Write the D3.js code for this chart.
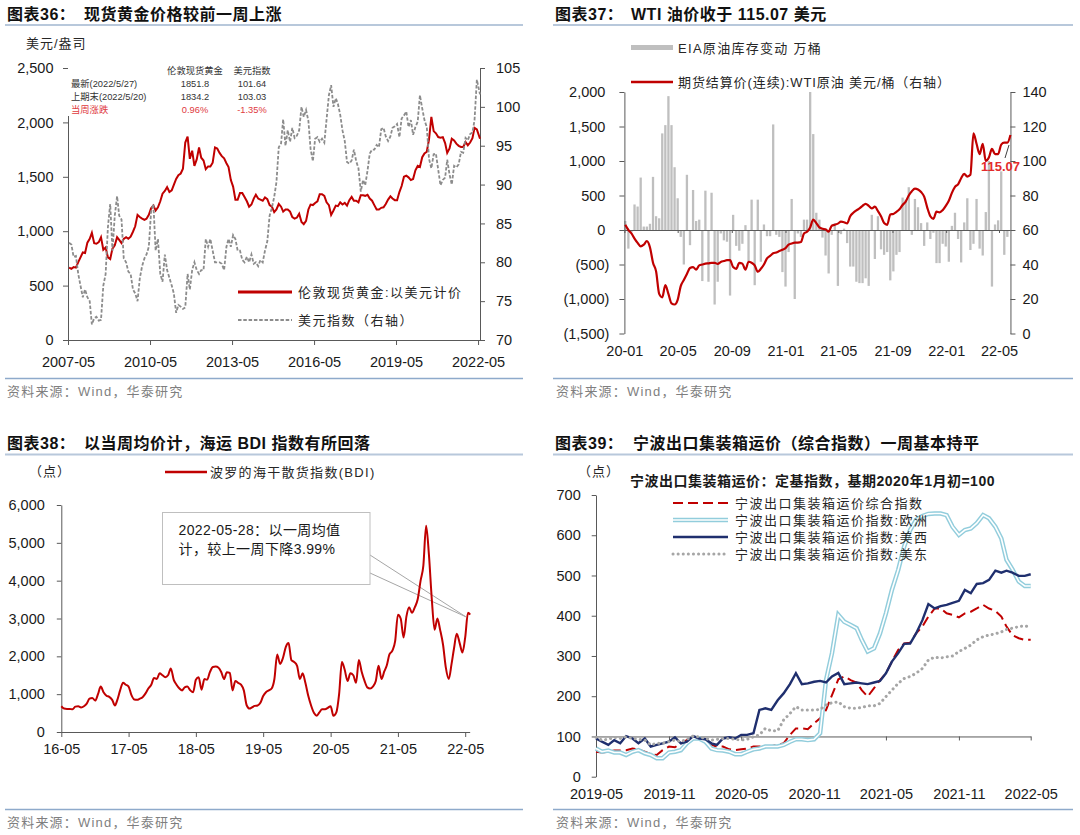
<!DOCTYPE html>
<html lang="zh">
<head>
<meta charset="utf-8">
<title>商品与运价周度图表</title>
<script src="https://d3js.org/d3.v7.min.js"></script>
<style>
  body { margin: 0; background: #fff; }
  svg { display: block; font-family: "Liberation Sans", "Noto Sans CJK SC", sans-serif; }
  .ttl { font-size: 16px; font-weight: bold; fill: #111; letter-spacing: 0.5px; }
  .lg { font-size: 13px; fill: #262626; letter-spacing: 1.3px; }
  .src { font-size: 13px; fill: #7f7f7f; letter-spacing: 1.2px; }
  .unit { font-size: 13px; fill: #262626; letter-spacing: 1px; }
  .tbl { font-size: 9.3px; fill: #333; }
</style>
</head>
<body>
<svg id="c" width="1080" height="835"></svg>
<script>
// ---------- data ----------
// 图表36: monthly, 2007-05 .. 2022-05
var goldVals = [665,655,670,665,715,760,805,800,
  895,930,985,890,885,900,945,830,850,760,745,840,
  870,945,920,890,930,945,930,950,995,1045,1150,1130,
  1115,1105,1115,1150,1210,1235,1190,1220,1275,1345,1370,1405,
  1360,1375,1425,1480,1515,1530,1575,1815,1870,1665,1740,1600,
  1660,1770,1675,1650,1570,1595,1595,1630,1770,1760,1720,1690,
  1670,1625,1590,1470,1410,1290,1290,1350,1350,1315,1275,1225,
  1245,1300,1335,1300,1290,1280,1310,1295,1240,1225,1175,1200,
  1250,1225,1180,1200,1200,1180,1130,1115,1125,1160,1085,1065,
  1095,1200,1245,1240,1260,1275,1340,1340,1325,1265,1240,1150,
  1190,1235,1230,1265,1245,1260,1235,1285,1315,1280,1280,1265,
  1330,1330,1325,1335,1300,1280,1240,1200,1200,1215,1220,1250,
  1290,1320,1300,1285,1285,1360,1415,1500,1510,1495,1470,1480,
  1560,1600,1590,1680,1715,1730,1845,2050,1920,1900,1865,1860,
  1865,1810,1720,1760,1850,1835,1805,1785,1775,1775,1820,1790,
  1815,1855,1950,1935,1850];
var usdVals = [82.5,82.3,80.7,80.8,78.5,77,75.5,76.5,
  75.5,75,72,72.8,73,72.5,72.6,77,78.5,84.5,87.5,81.5,
  86,88.5,86,85.5,80.5,80,78.8,78.5,76.5,76,75,77.9,
  79.5,80.5,81,82,86.5,87.5,81.5,83,78.5,77.5,81,79,
  78,77,76,73.5,74.5,74.3,74,74.2,78.5,76.5,79,80,
  79,78.5,79,79,83,82,83,81.5,80,80,80,79.8,
  79,82,83,82,83.5,83,81.5,81.5,80.3,80,80.7,80,
  81,79.8,80,79.5,80.3,80,81.5,82.7,86,87,88.4,90.3,
  94.8,95.3,98.4,95,97,95.5,97.3,96,96.3,97,100,98.7,
  99.6,98.2,94.6,93,95.9,96.1,95.5,95.9,95.4,98.4,101.5,102.8,
  100,101.1,100.4,99,97,95.6,92.9,92.7,93.1,94.5,93,92.1,
  89.1,90.6,89.9,91.8,94,94.5,94.5,95.1,94.8,97.1,97.3,96.2,
  95.6,96.2,97.3,97.5,97.8,96.1,98.5,98.9,99.4,97.4,98.3,96.4,
  97.4,98.1,101.5,99.8,98.3,97.4,93.3,92.1,93.9,94,91.9,89.9,
  90.6,90.9,93.2,91.3,90,92.4,92.2,92.6,94.2,94.1,96,95.7,
  96.5,96.7,98.3,103.5,101.6];
var goldTable = [["最新(2022/5/27)","1851.8","101.64"],
                 ["上期末(2022/5/20)","1834.2","103.03"],
                 ["当周涨跌","0.96%","-1.35%"]];

// 图表37: weekly from 2020-01-03
var eiaVals = [130,-270,-30,370,340,760,50,50,90,770,200,170,1400,1520,1940,1520,910,460,-100,-500,
  800,-220,580,130,150,-740,570,-750,540,-1080,-750,-50,-150,-170,-950,220,-230,-300,-200,70,
  -450,440,-800,440,-460,80,-90,-90,1530,-70,-100,-610,-820,-320,450,-1000,-50,-100,150,150,
  2000,1390,250,150,-110,-370,-630,-70,100,-810,-60,20,-190,-530,-530,-750,-770,-770,-700,-810,
  220,-420,200,-280,-360,-320,-730,-600,-360,-320,470,440,620,-70,450,330,100,-230,110,-130,
  -40,-480,-480,-200,-240,-460,60,250,-130,-470,110,460,-290,-200,450,-270,-370,260,1000,-820,
  80,140,850,-360,-100];
var wtiVals = [63,60,58,55,52.5,50.5,51.5,53.5,50,41,36,23,21,28,23,17.5,16.8,19.5,27.5,31,
  34.5,38,38.5,37,39.5,40,40.5,40.7,41,41,40.3,41.5,42,42.5,42.5,38.5,37.5,41,40.5,37,
  41.6,41,39.5,35.8,37.5,40,43.5,45,46.5,47,47.8,48.5,49.5,51.5,52.2,52.7,52.7,53,58,59,
  61.5,66,64,61.5,60.7,60.4,59,62.5,63,63.7,64.8,64.5,63.8,68,70,71.4,72.5,74,75.1,74,
  72.5,73.5,71,68,64,63,69,69.3,70.5,72,74.5,76.5,80,82.5,84,83.5,82,79.3,73,68,
  66.5,70.6,70.2,71.5,74,77,81.5,85,86.5,90,92.5,91,92,116,110,104,110,100,102,107,
  104,104,109.5,110.6,110.6,115.07];
var wtiLast = "115.07";

// 图表38: half-monthly from 2016-05-01, last point 2022-05-28
var bdiVals = [680,620,610,610,600,670,680,650,680,750,
  880,900,830,1000,1200,1050,960,930,850,700,
  850,1100,1300,1250,1200,980,860,850,880,920,
  1020,1150,1250,1430,1400,1550,1500,1450,1500,1680,
  1380,1250,1150,1100,1180,1200,1100,1050,1380,1450,
  1120,1400,1380,1580,1720,1730,1700,1580,1400,1580,
  1560,1100,1350,1300,1250,1100,700,620,650,690,
  700,770,950,1050,1100,1150,1400,2050,1800,1950,
  2250,2350,1900,1850,1750,1400,1550,1300,950,700,
  500,430,520,600,600,640,680,430,520,1000,
  1850,1650,1350,1550,1500,1300,1900,1600,1350,1180,
  1150,1200,1350,1750,1400,1600,1750,2050,2150,2400,
  3100,3000,2500,3050,3300,3150,3300,3500,4000,4400,
  5450,4700,3500,2700,3000,2700,2300,1700,1400,1800,
  2200,2600,2350,2100,2500,3150];
var bdiLast = 3100;
var bdiNote = ["2022-05-28：以一周均值", "计，较上一周下降3.99%"];

// 图表39: half-monthly from 2019-05-01
var nbComposite = [62,60,62,65,65,66,70,68,62,56,54,66,75,73,83,91,99,95,91,79,
  75,75,68,66,68,70,75,75,76,76,79,83,104,120,120,118,133,145,166,203,
  242,249,240,234,215,199,220,240,257,286,315,331,333,356,373,398,418,418,406,402,
  396,406,410,418,427,418,412,398,373,352,344,340,340];
var nbEurope = [70,62,65,60,60,54,62,66,58,54,46,46,60,62,66,83,95,95,87,70,
  66,65,62,56,56,62,68,70,75,75,75,79,87,93,93,91,93,108,240,307,
  402,385,377,369,340,311,319,356,406,464,514,572,613,638,648,653,654,654,650,621,
  601,613,617,630,650,642,621,592,539,515,485,474,474];
var nbWest = [95,87,79,91,83,101,95,83,95,75,79,83,87,98,83,87,101,95,93,83,
  79,95,98,95,104,104,108,166,170,166,190,207,230,257,230,232,236,238,234,249,
  258,230,232,234,232,230,234,238,257,286,307,330,331,356,389,429,418,424,427,432,
  437,464,456,479,481,489,512,507,512,507,499,499,503];
var nbEast = [98,91,93,98,95,99,95,93,91,79,83,83,87,91,87,93,101,99,95,91,
  93,95,95,93,91,93,99,104,120,114,114,141,157,174,166,166,166,167,178,184,
  186,174,170,170,172,176,176,182,199,215,232,244,249,257,269,290,297,295,298,300,
  311,319,327,340,348,352,355,360,366,369,373,375,371];
var nbNames = ["宁波出口集装箱运价综合指数", "宁波出口集装箱运价指数:欧洲",
               "宁波出口集装箱运价指数:美西", "宁波出口集装箱运价指数:美东"];

// ---------- helpers ----------
var svg = d3.select("#c");
var parse = d3.timeParse("%Y-%m-%d");
var dk = "#595959";

function monthSeq(start, n) {
  var d0 = parse(start);
  return d3.range(n).map(function(i){ return d3.timeMonth.offset(d0, i); });
}
function weekSeq(start, n) {
  var d0 = parse(start);
  return d3.range(n).map(function(i){ return d3.timeWeek.offset(d0, i); });
}
function halfMonthSeq(start, n) {
  var d0 = parse(start);
  return d3.range(n).map(function(i){
    var m = d3.timeMonth.offset(d0, Math.floor(i / 2));
    return i % 2 ? d3.timeDay.offset(m, 15) : m;
  });
}
function styleAxis(g) {
  g.attr("font-family", null).attr("font-size", null);
  g.selectAll(".domain").attr("stroke", dk);
  g.selectAll(".tick line").attr("stroke", dk);
  g.selectAll("text").attr("fill", "#1a1a1a").style("font-size", "14.5px");
}
function title(x, y, num, x2, txt) {
  svg.append("text").attr("class", "ttl").attr("x", x).attr("y", y).text(num);
  svg.append("text").attr("class", "ttl").attr("x", x2).attr("y", y).text(txt);
}
function hline(x1, x2, y, color, w) {
  svg.append("line").attr("x1", x1).attr("x2", x2).attr("y1", y).attr("y2", y)
    .attr("stroke", color).attr("stroke-width", w);
}
function source(x, y) {
  svg.append("text").attr("class", "src").attr("x", x).attr("y", y).text("资料来源：Wind，华泰研究");
}

svg.append("rect").attr("width", 1080).attr("height", 835).attr("fill", "#fff");

// ---------- 图表36 ----------
title(7, 20, "图表36：", 84, "现货黄金价格较前一周上涨");
hline(5, 523, 25, "#b8c8db", 2);
svg.append("text").attr("class", "unit").attr("x", 26).attr("y", 48).text("美元/盎司");

var gDates = monthSeq("2007-05-15", goldVals.length);
gDates[gDates.length - 1] = parse("2022-05-27");
var x1 = d3.scaleTime().domain([parse("2007-05-01"), parse("2022-05-27")]).range([68, 480]);
var y1 = d3.scaleLinear().domain([0, 2500]).range([340, 68]);
var y1r = d3.scaleLinear().domain([70, 105]).range([340, 68]);

svg.append("g").attr("transform", "translate(68,0)")
  .call(d3.axisLeft(y1).tickValues(d3.range(0, 2501, 500)).tickFormat(d3.format(","))
    .tickSize(5).tickSizeOuter(0).tickPadding(9.5)).call(styleAxis);
svg.append("g").attr("transform", "translate(480,0)")
  .call(d3.axisRight(y1r).tickValues(d3.range(70, 106, 5))
    .tickSize(5).tickSizeOuter(0).tickPadding(11)).call(styleAxis);
svg.append("g").attr("transform", "translate(0,340)")
  .call(d3.axisBottom(x1).tickValues(["2007-05-01","2010-05-01","2013-05-01","2016-05-01","2019-05-01","2022-05-01"].map(parse))
    .tickFormat(d3.timeFormat("%Y-%m")).tickSize(5).tickSizeOuter(0).tickPadding(12)).call(styleAxis);

// table box covers the top of the left axis
svg.append("rect").attr("x", 68).attr("y", 62).attr("width", 204).attr("height", 54).attr("fill", "#fff");

svg.append("path").datum(goldVals)
  .attr("fill", "none").attr("stroke", "#c00000").attr("stroke-width", 2)
  .attr("d", d3.line().x(function(d, i){ return x1(gDates[i]); }).y(function(d){ return y1(d); }));
svg.append("path").datum(usdVals)
  .attr("fill", "none").attr("stroke", "#8c8c8c").attr("stroke-width", 1.8).attr("stroke-dasharray", "3.5,1.8")
  .attr("d", d3.line().x(function(d, i){ return x1(gDates[i]); }).y(function(d){ return y1r(d); }));

var tb = svg.append("g").attr("class", "tbl");
tb.append("text").attr("x", 195).attr("y", 74).attr("text-anchor", "middle").text("伦敦现货黄金");
tb.append("text").attr("x", 252).attr("y", 74).attr("text-anchor", "middle").text("美元指数");
goldTable.forEach(function(r, i) {
  var yy = 87 + i * 13, col = i === 2 ? "#e0393e" : "#333";
  tb.append("text").attr("x", 71).attr("y", yy).attr("fill", col).text(r[0]);
  tb.append("text").attr("x", 195).attr("y", yy).attr("fill", col).attr("text-anchor", "middle").text(r[1]);
  tb.append("text").attr("x", 252).attr("y", yy).attr("fill", col).attr("text-anchor", "middle").text(r[2]);
});

hline(238, 292, 292, "#c00000", 3);
svg.append("text").attr("class", "lg").attr("x", 298).attr("y", 297).style("letter-spacing", "1.5px").text("伦敦现货黄金:以美元计价");
svg.append("line").attr("x1", 238).attr("x2", 292).attr("y1", 320).attr("y2", 320)
  .attr("stroke", "#8c8c8c").attr("stroke-width", 1.8).attr("stroke-dasharray", "3.5,1.8");
svg.append("text").attr("class", "lg").attr("x", 298).attr("y", 325).style("letter-spacing", "1.5px").text("美元指数（右轴）");

hline(5, 523, 378.5, "#8eaacb", 1.5);
source(7, 396);

// ---------- 图表37 ----------
title(555, 20, "图表37：", 631, "WTI 油价收于 115.07 美元");
hline(553, 1073, 25, "#b8c8db", 2);

var wDates = weekSeq("2020-01-03", wtiVals.length);
wDates[wDates.length - 1] = parse("2022-05-27");
var x2 = d3.scaleTime().domain([parse("2020-01-01"), parse("2022-05-01")]).range([624.4, 999]);
var y2 = d3.scaleLinear().domain([-1500, 2000]).range([333.5, 92]);
var y2r = d3.scaleLinear().domain([0, 140]).range([333.5, 92]);
var x2end = x2(parse("2022-05-27"));

svg.append("g").selectAll("rect").data(eiaVals).enter().append("rect")
  .attr("x", function(d, i){ return x2(wDates[i]) - 1.15; })
  .attr("width", 2.3)
  .attr("y", function(d){ return y2(Math.max(0, d)); })
  .attr("height", function(d){ return Math.abs(y2(d) - y2(0)); })
  .attr("fill", "#bfbfbf");

var ax2 = svg.append("g").attr("transform", "translate(624.4,0)")
  .call(d3.axisLeft(y2).tickValues(d3.range(-1500, 2001, 500))
    .tickFormat(function(d){ return d < 0 ? "(" + d3.format(",")(-d) + ")" : d3.format(",")(d); })
    .tickSize(5).tickSizeOuter(0).tickPadding(10)).call(styleAxis);
ax2.selectAll(".tick text").filter(function(d){ return d >= 0; }).attr("x", -19);
svg.append("g").attr("transform", "translate(" + x2end + ",0)")
  .call(d3.axisRight(y2r).tickValues(d3.range(0, 141, 20))
    .tickSize(5).tickSizeOuter(0).tickPadding(7)).call(styleAxis);
var xa2 = svg.append("g").attr("transform", "translate(0," + y2(0) + ")")
  .call(d3.axisBottom(x2).tickValues(d3.range(0, 8).map(function(i){ return d3.timeMonth.offset(parse("2020-01-01"), i * 4); }))
    .tickFormat(d3.timeFormat("%y-%m")).tickSize(3).tickSizeOuter(0)).call(styleAxis);
xa2.select(".domain").attr("d", "M624.4,0.5H" + x2end);
xa2.selectAll(".tick text").attr("y", 116);

svg.append("path").datum(wtiVals)
  .attr("fill", "none").attr("stroke", "#c00000").attr("stroke-width", 2.2)
  .attr("d", d3.line().curve(d3.curveMonotoneX).x(function(d, i){ return x2(wDates[i]); }).y(function(d){ return y2r(d); }));

svg.append("line").attr("x1", 1005).attr("y1", 158).attr("x2", 1009).attr("y2", 145)
  .attr("stroke", "#404040").attr("stroke-width", 1);
svg.append("text").attr("x", 981).attr("y", 171).attr("fill", "#e32b2b")
  .style("font-size", "13px").style("font-weight", "bold").text(wtiLast);

svg.append("rect").attr("x", 631).attr("y", 45).attr("width", 42).attr("height", 5).attr("fill", "#bfbfbf");
svg.append("text").attr("class", "lg").attr("x", 678).attr("y", 53).text("EIA原油库存变动 万桶");
hline(631, 673, 82, "#c00000", 2.5);
svg.append("text").attr("class", "lg").attr("x", 678).attr("y", 87).style("letter-spacing", "0.9px").text("期货结算价(连续):WTI原油 美元/桶（右轴）");

hline(553, 1073, 378.5, "#8eaacb", 1.5);
source(556, 396);

// ---------- 图表38 ----------
title(7, 449, "图表38：", 84, "以当周均价计，海运 BDI 指数有所回落");
hline(5, 523, 454.5, "#b8c8db", 2);
svg.append("text").attr("class", "unit").attr("x", 29).attr("y", 476).text("（点）");

var bDates = halfMonthSeq("2016-05-01", bdiVals.length).concat([parse("2022-05-28")]);
var bSeries = bdiVals.concat([bdiLast]);
var x3 = d3.scaleTime().domain([parse("2016-05-01"), parse("2022-05-01")]).range([61.3, 465.2]);
var y3 = d3.scaleLinear().domain([0, 6000]).range([732, 505]);
var x3end = x3(parse("2022-05-28"));

svg.append("g").attr("transform", "translate(61.3,0)")
  .call(d3.axisLeft(y3).tickValues(d3.range(0, 6001, 1000)).tickFormat(d3.format(","))
    .tickSize(4.5).tickSizeOuter(0).tickPadding(12)).call(styleAxis);
var xa3 = svg.append("g").attr("transform", "translate(0,732)")
  .call(d3.axisBottom(x3).tickValues(d3.range(0, 7).map(function(i){ return d3.timeYear.offset(parse("2016-05-01"), i); }))
    .tickFormat(d3.timeFormat("%y-%m")).tickSize(5).tickSizeOuter(0).tickPadding(7)).call(styleAxis);
xa3.select(".domain").attr("d", "M61.3,0.5H" + x3end);

// callout box
var tip = [x3end - 4.5, y3(bdiLast) + 2];
svg.append("polyline").attr("points", [[370, 555], tip, [370, 573]].join(" "))
  .attr("fill", "none").attr("stroke", "#a6a6a6").attr("stroke-width", 1);
svg.append("rect").attr("x", 162.5).attr("y", 512.5).attr("width", 207.5).attr("height", 72)
  .attr("fill", "#fff").attr("stroke", "#bfbfbf").attr("stroke-width", 1);
bdiNote.forEach(function(t, i) {
  svg.append("text").attr("x", 178.5).attr("y", 535 + i * 19).attr("fill", "#1a1a1a")
    .style("font-size", "14px").style("letter-spacing", "0.4px").text(t);
});

svg.append("path").datum(bSeries)
  .attr("fill", "none").attr("stroke", "#c00000").attr("stroke-width", 2)
  .attr("d", d3.line().curve(d3.curveMonotoneX).x(function(d, i){ return x3(bDates[i]); }).y(function(d){ return y3(d); }));

hline(165, 207, 472, "#c00000", 2.5);
svg.append("text").attr("class", "lg").attr("x", 210).attr("y", 477).text("波罗的海干散货指数(BDI)");

hline(5, 523, 809.5, "#8eaacb", 1.5);
source(7, 827);

// ---------- 图表39 ----------
title(555, 449, "图表39：", 633, "宁波出口集装箱运价（综合指数）一周基本持平");
hline(553, 1073, 454.5, "#b8c8db", 2);
svg.append("text").attr("class", "unit").attr("x", 578).attr("y", 476).text("（点）");
svg.append("text").attr("x", 630).attr("y", 486).attr("fill", "#1a1a1a")
  .style("font-size", "14px").style("font-weight", "bold").style("letter-spacing", "0.5px")
  .text("宁波出口集装箱运价：定基指数，基期2020年1月初=100");

var nDates = halfMonthSeq("2019-05-01", nbWest.length);
var x4 = d3.scaleTime().domain([parse("2019-05-01"), parse("2022-05-01")]).range([596, 1030.7]);
var y4 = d3.scaleLinear().domain([0, 700]).range([776.7, 495]);

svg.append("g").attr("transform", "translate(596,0)")
  .call(d3.axisLeft(y4).tickValues(d3.range(0, 701, 100))
    .tickSize(4.3).tickSizeOuter(0).tickPadding(11)).call(styleAxis);
var xa4 = svg.append("g").attr("transform", "translate(0," + y4(100) + ")")
  .call(d3.axisBottom(x4).tickValues(d3.range(0, 7).map(function(i){ return d3.timeMonth.offset(parse("2019-05-01"), i * 6); }))
    .tickFormat(d3.timeFormat("%Y-%m")).tickSize(4).tickSizeOuter(0)).call(styleAxis);
xa4.selectAll(".tick text").attr("y", 52);

var nbLine = function(vals) {
  return d3.line().x(function(d, i){ return x4(nDates[i]); }).y(function(d){ return y4(d); })(vals);
};
var nbStyles = [
  {data: nbComposite, layers: [{c: "#c00000", w: 2, dash: "10,5"}]},
  {data: nbEurope, layers: [{c: "#92cddc", w: 4.5}, {c: "#fff", w: 1.6}]},
  {data: nbWest, layers: [{c: "#1f2f6e", w: 2.4}]},
  {data: nbEast, layers: [{c: "#a6a6a6", w: 3, dash: "0.1,5", cap: "round"}]}
];
nbStyles.forEach(function(s, k) {
  s.layers.forEach(function(l) {
    svg.append("path").attr("d", nbLine(s.data)).attr("fill", "none")
      .attr("stroke", l.c).attr("stroke-width", l.w)
      .attr("stroke-dasharray", l.dash || null).attr("stroke-linecap", l.cap || "butt");
    svg.append("line").attr("x1", 673).attr("x2", 728)
      .attr("y1", 503 + k * 17).attr("y2", 503 + k * 17)
      .attr("stroke", l.c).attr("stroke-width", l.w)
      .attr("stroke-dasharray", l.dash || null).attr("stroke-linecap", l.cap || "butt");
  });
  svg.append("text").attr("class", "lg").attr("x", 735).attr("y", 508 + k * 17)
    .style("letter-spacing", "1.5px").text(nbNames[k]);
});

hline(553, 1073, 809.5, "#8eaacb", 1.5);
source(556, 827);
</script>
</body>
</html>
